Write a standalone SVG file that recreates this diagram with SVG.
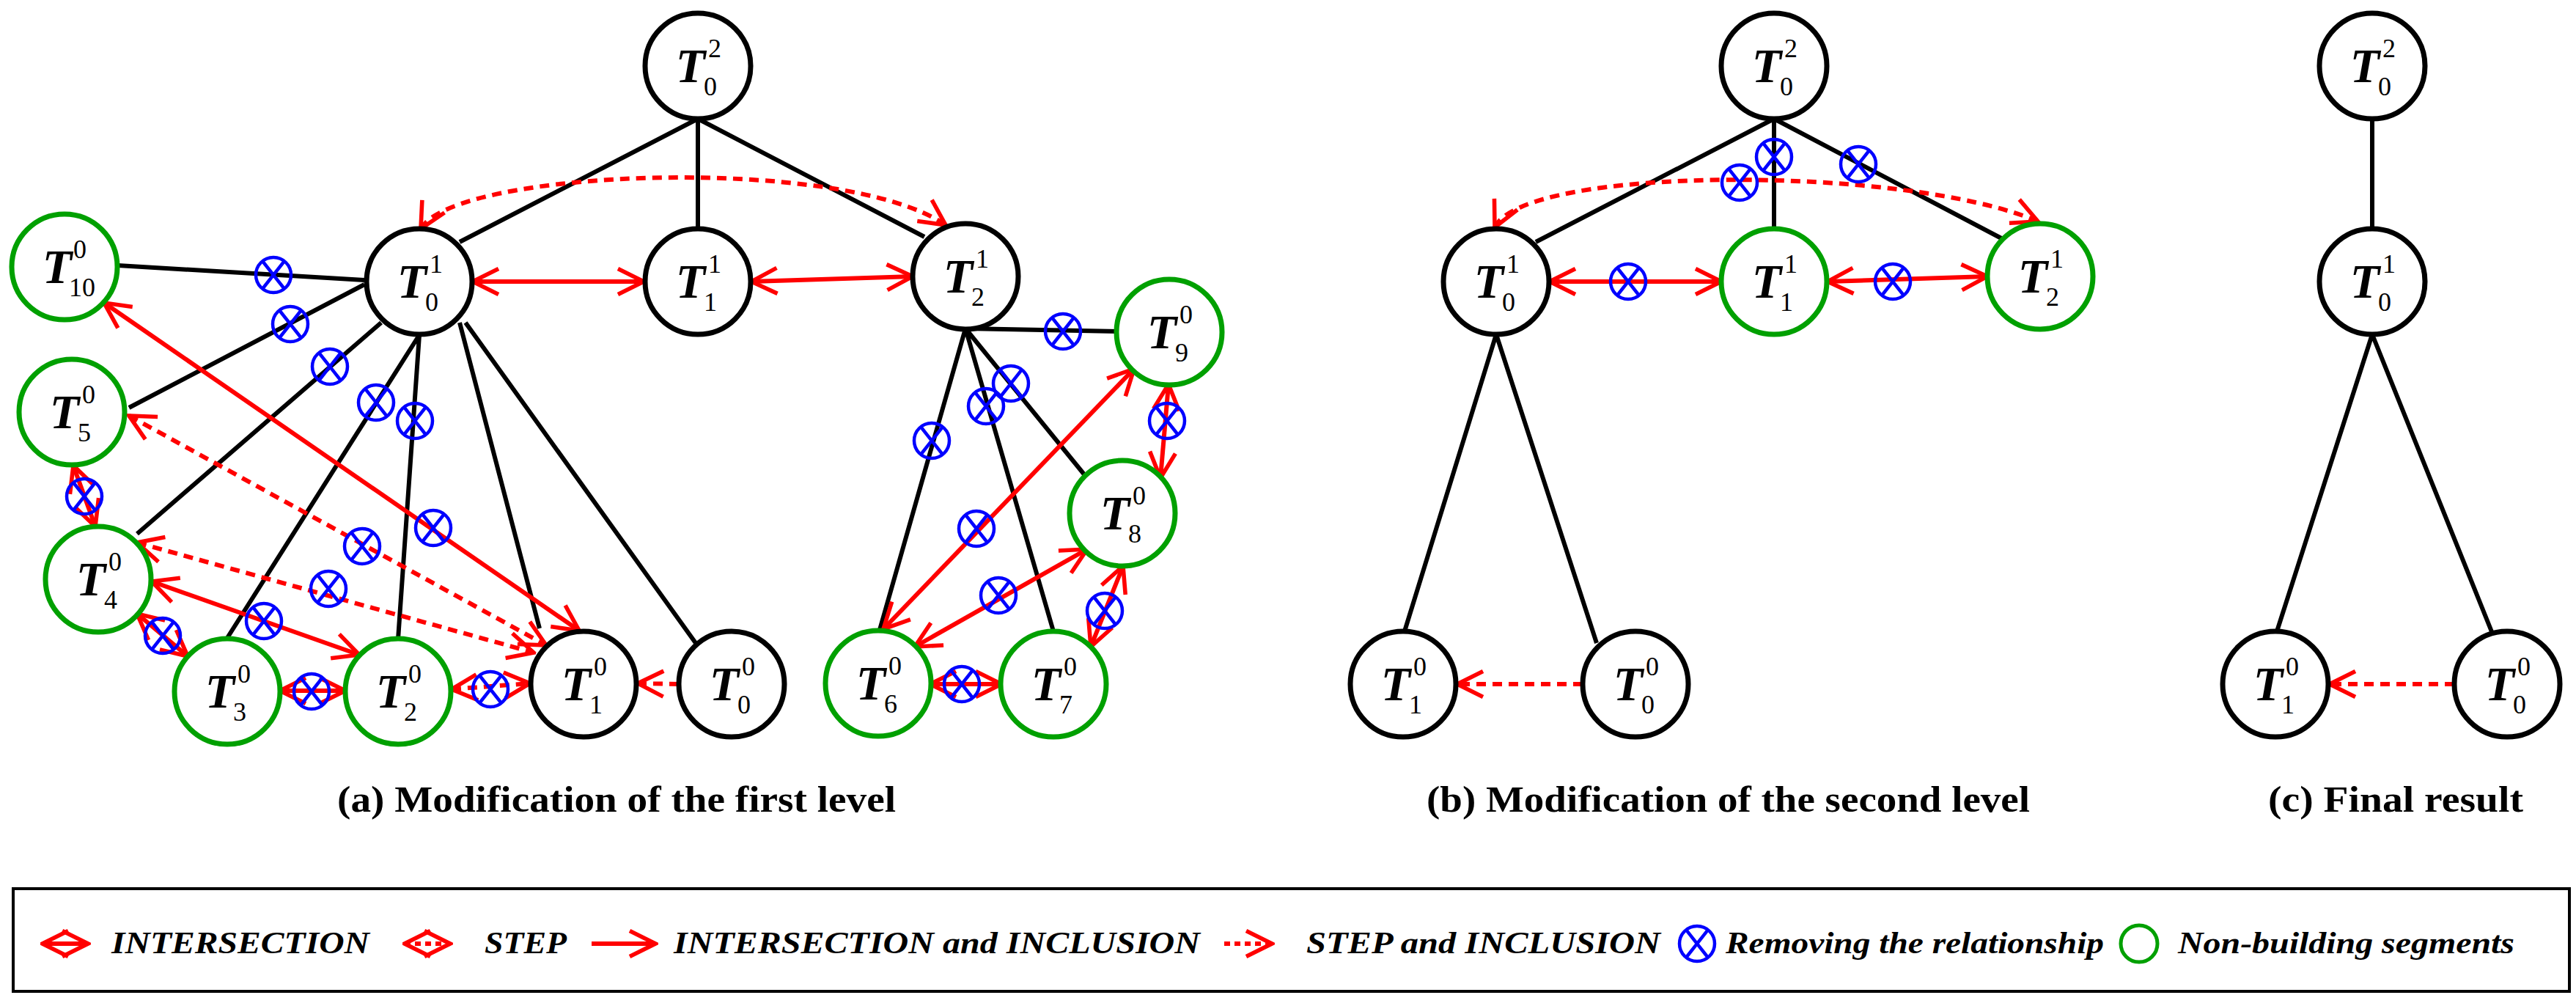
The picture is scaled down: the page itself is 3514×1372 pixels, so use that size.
<svg xmlns="http://www.w3.org/2000/svg" xmlns:xlink="http://www.w3.org/1999/xlink" width="3514" height="1372" viewBox="0 0 3514 1372">
<style>
.n{fill:#fff;stroke:#000;stroke-width:7}
.g{fill:#fff;stroke:#00a000;stroke-width:7}
.b{stroke:#000;stroke-width:6;fill:none}
.r{stroke:#ff0000;stroke-width:6;fill:none}
.d{stroke:#ff0000;stroke-width:6;fill:none;stroke-dasharray:13 9}
.dbl{marker-start:url(#ah);marker-end:url(#ah)}
.one{marker-end:url(#ah)}
.T{font-family:"Liberation Serif",serif;font-style:italic;font-weight:bold;font-size:66px;text-anchor:middle}
.s{font-family:"Liberation Serif",serif;font-size:36px}
.cap{font-family:"Liberation Serif",serif;font-weight:bold;font-size:50px}
.lg{font-family:"Liberation Serif",serif;font-weight:bold;font-style:italic;font-size:42px}
</style>
<defs>
<marker id="ah" viewBox="0 0 12 12" refX="11" refY="6" markerWidth="7" markerHeight="7" orient="auto-start-reverse" markerUnits="strokeWidth">
<path d="M1,1 L11,6 L1,11" fill="none" stroke="#ff0000" stroke-width="1.6"/>
</marker>
<g id="x"><circle r="24" fill="none" stroke="#0000ff" stroke-width="4.5"/><path d="M-15,-19 L15,19 M15,-19 L-15,19" stroke="#0000ff" stroke-width="4.5"/></g>
</defs>
<rect width="3514" height="1372" fill="#fff"/>

<g id="connectors">
<path class="b" d="M952,162 L627,330 M952,162 L952,312 M952,162 L1261,323"/>
<path class="b" d="M497,382 L161,362 M497,388 L176,556 M520,440 L187,728 M570,460 L310,870 M572,457 L543,872 M627,440 L736,857 M635,440 L949,877"/>
<path class="b" d="M1317,448 L1526,452 M1317,448 L1483,652 M1317,448 L1437,861 M1317,448 L1200,859"/>
<path class="r dbl" d="M645,384 L878,384"/>
<path class="r dbl" d="M1025,384 L1245,377"/>
<path class="d dbl" d="M574,312 C620,230 1150,210 1290,307"/>
<path class="r dbl" d="M142,413 L790,860"/>
<path class="d dbl" d="M176,567 L745,880"/>
<path class="d dbl" d="M187,740 L728,890"/>
<path class="r dbl" d="M207,793 L490,893"/>
<path class="r dbl" d="M100,635 L130,718"/>
<path class="r dbl" d="M187,837 L256,895"/>
<path class="r dbl" d="M382,942 L471,942"/>
<path class="d dbl" d="M616,940 L723,932"/>
<path class="d one" d="M926,933 L870,932"/>
<path class="r dbl" d="M1205,858 L1547,503"/>
<path class="r dbl" d="M1248,882 L1483,749"/>
<path class="r dbl" d="M1594,524 L1583,652"/>
<path class="r dbl" d="M1532,772 L1488,882"/>
<path class="r dbl" d="M1269,933 L1366,933"/>
<use href="#x" x="373" y="375"/><use href="#x" x="396" y="442"/><use href="#x" x="450" y="500"/><use href="#x" x="513" y="549"/><use href="#x" x="566" y="574"/>
<use href="#x" x="591" y="720"/><use href="#x" x="494" y="745"/><use href="#x" x="448" y="803"/><use href="#x" x="360" y="847"/>
<use href="#x" x="115" y="677"/><use href="#x" x="222" y="867"/><use href="#x" x="425" y="943"/><use href="#x" x="669" y="940"/>
<use href="#x" x="1450" y="452"/><use href="#x" x="1379" y="523"/><use href="#x" x="1345" y="554"/><use href="#x" x="1271" y="601"/>
<use href="#x" x="1332" y="721"/><use href="#x" x="1362" y="812"/><use href="#x" x="1592" y="574"/><use href="#x" x="1507" y="833"/><use href="#x" x="1312" y="933"/>
<path class="b" d="M2420,162 L2095,330 M2420,162 L2420,312 M2420,162 L2732,326 M2041,456 L1916,861 M2041,456 L2178,877"/>
<path class="r dbl" d="M2114,384 L2348,384"/>
<path class="r dbl" d="M2493,384 L2711,377"/>
<path class="d dbl" d="M2039,310 C2080,225 2600,225 2780,302"/>
<path class="d one" d="M2159,933 L1988,933"/>
<use href="#x" x="2420" y="214"/><use href="#x" x="2373" y="249"/><use href="#x" x="2535" y="224"/><use href="#x" x="2221" y="384"/><use href="#x" x="2582" y="384"/>
<path class="b" d="M3236,162 L3236,312 M3236,456 L3106,861 M3236,456 L3400,864"/>
<path class="d one" d="M3348,933 L3178,933"/>
</g>

<g id="A02"><circle class="n" cx="952" cy="90" r="72"/><text class="T" x="942" y="112">T</text><text class="s" x="966" y="78">2</text><text class="s" x="960" y="130">0</text></g>
<g id="A01"><circle class="n" cx="572" cy="384" r="72"/><text class="T" x="562" y="406">T</text><text class="s" x="586" y="372">1</text><text class="s" x="580" y="424">0</text></g>
<g id="A11"><circle class="n" cx="952" cy="384" r="72"/><text class="T" x="942" y="406">T</text><text class="s" x="966" y="372">1</text><text class="s" x="960" y="424">1</text></g>
<g id="A21"><circle class="n" cx="1317" cy="377" r="72"/><text class="T" x="1307" y="399">T</text><text class="s" x="1331" y="365">1</text><text class="s" x="1325" y="417">2</text></g>
<g id="A10"><circle class="g" cx="88" cy="364" r="72"/><text class="T" x="78" y="386">T</text><text class="s" x="100" y="352">0</text><text class="s" x="94" y="404">10</text></g>
<g id="A5"><circle class="g" cx="98" cy="562" r="72"/><text class="T" x="88" y="584">T</text><text class="s" x="112" y="550">0</text><text class="s" x="106" y="602">5</text></g>
<g id="A4"><circle class="g" cx="134" cy="790" r="72"/><text class="T" x="124" y="812">T</text><text class="s" x="148" y="778">0</text><text class="s" x="142" y="830">4</text></g>
<g id="A3"><circle class="g" cx="310" cy="943" r="72"/><text class="T" x="300" y="965">T</text><text class="s" x="324" y="931">0</text><text class="s" x="318" y="983">3</text></g>
<g id="A2"><circle class="g" cx="543" cy="943" r="72"/><text class="T" x="533" y="965">T</text><text class="s" x="557" y="931">0</text><text class="s" x="551" y="983">2</text></g>
<g id="A1"><circle class="n" cx="796" cy="933" r="72"/><text class="T" x="786" y="955">T</text><text class="s" x="810" y="921">0</text><text class="s" x="804" y="973">1</text></g>
<g id="A0"><circle class="n" cx="998" cy="933" r="72"/><text class="T" x="988" y="955">T</text><text class="s" x="1012" y="921">0</text><text class="s" x="1006" y="973">0</text></g>
<g id="A9"><circle class="g" cx="1595" cy="453" r="72"/><text class="T" x="1585" y="475">T</text><text class="s" x="1609" y="441">0</text><text class="s" x="1603" y="493">9</text></g>
<g id="A8"><circle class="g" cx="1531" cy="700" r="72"/><text class="T" x="1521" y="722">T</text><text class="s" x="1545" y="688">0</text><text class="s" x="1539" y="740">8</text></g>
<g id="A7"><circle class="g" cx="1437" cy="933" r="72"/><text class="T" x="1427" y="955">T</text><text class="s" x="1451" y="921">0</text><text class="s" x="1445" y="973">7</text></g>
<g id="A6"><circle class="g" cx="1198" cy="932" r="72"/><text class="T" x="1188" y="954">T</text><text class="s" x="1212" y="920">0</text><text class="s" x="1206" y="972">6</text></g>

<g id="B02"><circle class="n" cx="2420" cy="90" r="72"/><text class="T" x="2410" y="112">T</text><text class="s" x="2434" y="78">2</text><text class="s" x="2428" y="130">0</text></g>
<g id="B01"><circle class="n" cx="2041" cy="384" r="72"/><text class="T" x="2031" y="406">T</text><text class="s" x="2055" y="372">1</text><text class="s" x="2049" y="424">0</text></g>
<g id="B11"><circle class="g" cx="2420" cy="384" r="72"/><text class="T" x="2410" y="406">T</text><text class="s" x="2434" y="372">1</text><text class="s" x="2428" y="424">1</text></g>
<g id="B21"><circle class="g" cx="2783" cy="377" r="72"/><text class="T" x="2773" y="399">T</text><text class="s" x="2797" y="365">1</text><text class="s" x="2791" y="417">2</text></g>
<g id="B1"><circle class="n" cx="1914" cy="933" r="72"/><text class="T" x="1904" y="955">T</text><text class="s" x="1928" y="921">0</text><text class="s" x="1922" y="973">1</text></g>
<g id="B0"><circle class="n" cx="2231" cy="933" r="72"/><text class="T" x="2221" y="955">T</text><text class="s" x="2245" y="921">0</text><text class="s" x="2239" y="973">0</text></g>

<g id="C02"><circle class="n" cx="3236" cy="90" r="72"/><text class="T" x="3226" y="112">T</text><text class="s" x="3250" y="78">2</text><text class="s" x="3244" y="130">0</text></g>
<g id="C01"><circle class="n" cx="3236" cy="384" r="72"/><text class="T" x="3226" y="406">T</text><text class="s" x="3250" y="372">1</text><text class="s" x="3244" y="424">0</text></g>
<g id="C1"><circle class="n" cx="3104" cy="933" r="72"/><text class="T" x="3094" y="955">T</text><text class="s" x="3118" y="921">0</text><text class="s" x="3112" y="973">1</text></g>
<g id="C0"><circle class="n" cx="3420" cy="933" r="72"/><text class="T" x="3410" y="955">T</text><text class="s" x="3434" y="921">0</text><text class="s" x="3428" y="973">0</text></g>

<g id="captions">
<text class="cap" x="460" y="1107" textLength="762" lengthAdjust="spacingAndGlyphs">(a) Modification of the first level</text>
<text class="cap" x="1946" y="1107" textLength="823" lengthAdjust="spacingAndGlyphs">(b) Modification of the second level</text>
<text class="cap" x="3094" y="1107" textLength="348" lengthAdjust="spacingAndGlyphs">(c) Final result</text>
</g>

<g id="legend">
<rect x="18" y="1212" width="3487" height="140" fill="none" stroke="#000" stroke-width="4"/>
<path class="r dbl" d="M58,1287 L120,1287"/>
<text class="lg" x="152" y="1300" textLength="352" lengthAdjust="spacingAndGlyphs">INTERSECTION</text>
<path class="d dbl" d="M552,1287 L614,1287" style="stroke-dasharray:8 6"/>
<text class="lg" x="661" y="1300" textLength="112" lengthAdjust="spacingAndGlyphs">STEP</text>
<path class="r one" d="M807,1287 L894,1287"/>
<text class="lg" x="919" y="1300" textLength="718" lengthAdjust="spacingAndGlyphs">INTERSECTION and INCLUSION</text>
<path class="d one" d="M1670,1287 L1735,1287" style="stroke-dasharray:8 6"/>
<text class="lg" x="1782" y="1300" textLength="483" lengthAdjust="spacingAndGlyphs">STEP and INCLUSION</text>
<use href="#x" x="2315" y="1287"/>
<text class="lg" x="2354" y="1300" textLength="516" lengthAdjust="spacingAndGlyphs">Removing the relationship</text>
<circle cx="2918" cy="1287" r="25" fill="none" stroke="#00a000" stroke-width="5"/>
<text class="lg" x="2971" y="1300" textLength="459" lengthAdjust="spacingAndGlyphs">Non-building segments</text>
</g>
</svg>
